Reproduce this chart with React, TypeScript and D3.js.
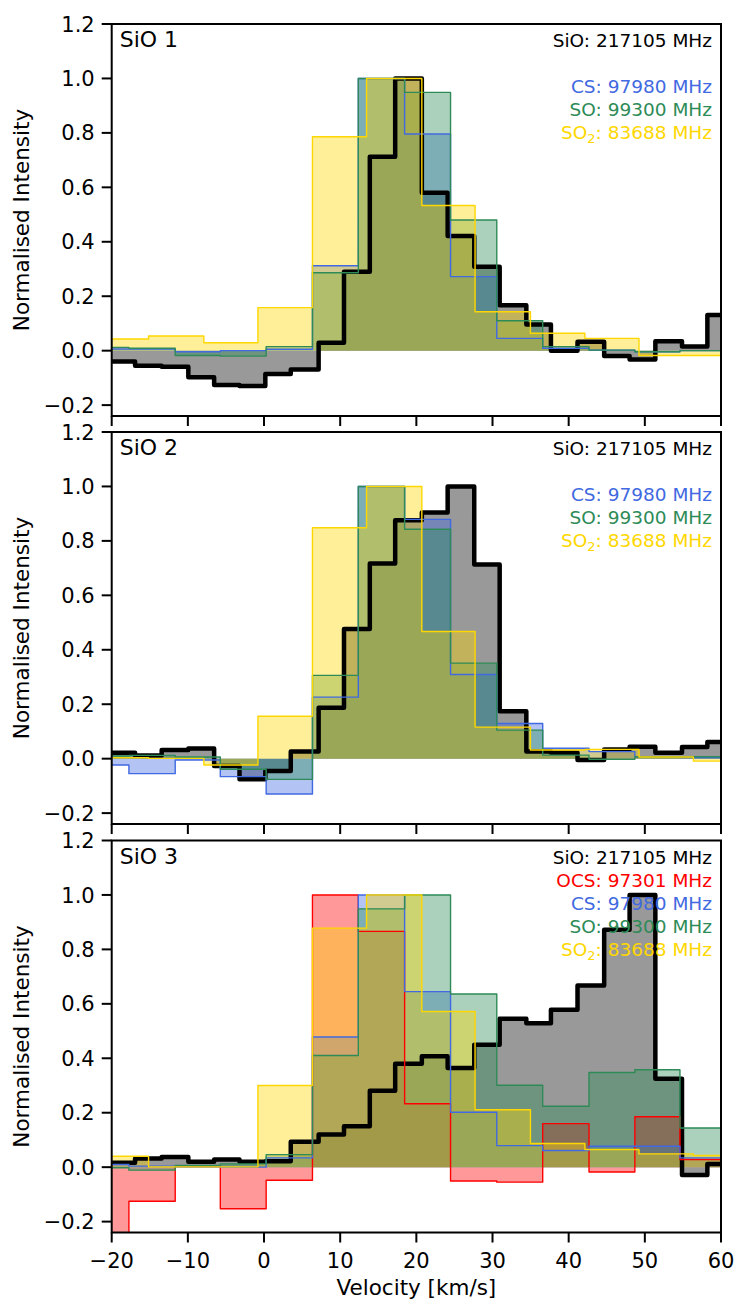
import React, { useEffect } from 'react';
import * as d3 from 'd3';

// ---- velocity bin edges (km/s) ----
const edgesSiO = [-20.5, -16.93, -13.44, -9.94, -6.55, -3.22, 0.17, 3.51, 7.17, 10.5, 13.89, 17.22, 20.72, 24.11, 27.6, 30.94, 34.44, 37.67, 41.16, 44.66, 48.0, 51.38, 54.88, 58.21, 61.6];
const edgesCS = [-20.5, -17.74, -11.66, -5.74, 0.28, 6.36, 12.38, 18.46, 24.49, 30.56, 36.59, 42.67, 48.69, 54.61, 61];
const edgesSO = edgesCS;
const edgesOCS = edgesCS;
const edgesSO2 = [-20.5, -15.16, -7.9, -0.8, 6.36, 13.46, 20.72, 27.71, 34.98, 42.13, 49.23, 56.38, 61];

// ---- normalised intensities ----
const sio1 = [-0.04, -0.055, -0.059, -0.098, -0.126, -0.13, -0.086, -0.069, 0.029, 0.29, 0.712, 1.0, 0.58, 0.421, 0.308, 0.167, 0.096, 0.0, 0.033, -0.02, -0.032, 0.035, 0.015, 0.131];
const sio2 = [0.022, 0.012, 0.032, 0.037, -0.027, -0.076, -0.045, 0.026, 0.187, 0.476, 0.717, 0.876, 0.904, 1.0, 0.713, 0.174, 0.026, 0.022, -0.005, 0.034, 0.044, 0.022, 0.043, 0.061];
const sio3 = [0.016, 0.032, 0.037, 0.02, 0.028, 0.02, 0.022, 0.093, 0.12, 0.15, 0.281, 0.38, 0.407, 0.364, 0.45, 0.545, 0.529, 0.578, 0.667, 0.872, 1.0, 0.325, -0.029, 0.012];

const cs1 = [0.006, 0.006, -0.004, 0.0, 0.005, 0.312, 1.0, 0.796, 0.272, 0.045, 0.009, 0.002, -0.004, 0.0];
const cs2 = [-0.023, -0.055, -0.005, -0.066, -0.13, 0.226, 1.0, 0.879, 0.309, 0.129, 0.038, 0.026, 0.007, 0.004];
const cs3 = [0.01, 0.004, 0.001, 0.0, 0.034, 0.478, 1.0, 0.645, 0.202, 0.079, 0.061, 0.077, 0.077, 0.034];

const so1 = [0.012, 0.009, -0.018, -0.02, 0.015, 0.286, 1.0, 0.949, 0.48, 0.11, 0.015, 0.002, -0.004, 0.0];
const so2 = [0.01, 0.012, 0.006, -0.039, -0.076, 0.306, 1.0, 0.843, 0.351, 0.105, 0.013, -0.002, 0.007, 0.007];
const so3 = [-0.002, -0.011, 0.006, 0.012, 0.046, 0.41, 0.949, 1.0, 0.636, 0.301, 0.224, 0.348, 0.358, 0.144];

const ocs3 = [-0.27, -0.125, 0.003, -0.153, -0.048, 1.0, 0.866, 0.233, -0.051, -0.055, 0.16, -0.018, 0.185, 0.028];

const so2_1 = [0.043, 0.054, 0.029, 0.158, 0.786, 1.0, 0.533, 0.143, 0.064, 0.045, -0.018, -0.018];
const so2_2 = [0.004, 0.001, -0.023, 0.156, 0.848, 1.0, 0.467, 0.116, 0.032, 0.034, 0.006, -0.009];
const so2_3 = [0.04, 0.001, 0.001, 0.3, 0.878, 1.0, 0.572, 0.211, 0.087, 0.065, 0.049, 0.043];

const xTicks = [-20, -10, 0, 10, 20, 30, 40, 50, 60];
const yTicks = [-0.2, 0.0, 0.2, 0.4, 0.6, 0.8, 1.0, 1.2];
const panelLabels = ['SiO 1', 'SiO 2', 'SiO 3'];

type Series = { name: string; color: string; edges: number[]; values: number[]; lw: number; row: number; freq: string };

const panels: { label: string; series: Series[] }[] = [
  {
    label: panelLabels[0],
    series: [
      { name: 'SiO', color: '#000000', edges: edgesSiO, values: sio1, lw: 4.5, row: 0, freq: '217105 MHz' },
      { name: 'CS', color: '#4169e1', edges: edgesCS, values: cs1, lw: 1.4, row: 2, freq: '97980 MHz' },
      { name: 'SO', color: '#2e8b57', edges: edgesSO, values: so1, lw: 1.4, row: 3, freq: '99300 MHz' },
      { name: 'SO2', color: '#ffd700', edges: edgesSO2, values: so2_1, lw: 1.4, row: 4, freq: '83688 MHz' },
    ],
  },
  {
    label: panelLabels[1],
    series: [
      { name: 'SiO', color: '#000000', edges: edgesSiO, values: sio2, lw: 4.5, row: 0, freq: '217105 MHz' },
      { name: 'CS', color: '#4169e1', edges: edgesCS, values: cs2, lw: 1.4, row: 2, freq: '97980 MHz' },
      { name: 'SO', color: '#2e8b57', edges: edgesSO, values: so2, lw: 1.4, row: 3, freq: '99300 MHz' },
      { name: 'SO2', color: '#ffd700', edges: edgesSO2, values: so2_2, lw: 1.4, row: 4, freq: '83688 MHz' },
    ],
  },
  {
    label: panelLabels[2],
    series: [
      { name: 'SiO', color: '#000000', edges: edgesSiO, values: sio3, lw: 4.5, row: 0, freq: '217105 MHz' },
      { name: 'OCS', color: '#ff0000', edges: edgesOCS, values: ocs3, lw: 1.4, row: 1, freq: '97301 MHz' },
      { name: 'CS', color: '#4169e1', edges: edgesCS, values: cs3, lw: 1.4, row: 2, freq: '97980 MHz' },
      { name: 'SO', color: '#2e8b57', edges: edgesSO, values: so3, lw: 1.4, row: 3, freq: '99300 MHz' },
      { name: 'SO2', color: '#ffd700', edges: edgesSO2, values: so2_3, lw: 1.4, row: 4, freq: '83688 MHz' },
    ],
  },
];

const W = 748;
const H = 1313;
const left = 111.7;
const right = 721;
const panelTops = [24, 432, 840.5];
const panelH = 392;
const FONT = "'DejaVu Sans', Verdana, sans-serif";

const x = d3.scaleLinear().domain([-20, 60]).range([left, right]);

function stepPoints(edges: number[], values: number[]): [number, number][] {
  const pts: [number, number][] = values.map((v, i) => [edges[i], v]);
  pts.push([edges[values.length], values[values.length - 1]]);
  return pts;
}

function fmt(v: number) {
  return d3.format('.1f')(v).replace('-', '\u2212');
}

function Panel({ idx }: { idx: number }) {
  const p = panels[idx];
  const top = panelTops[idx];
  const bottom = top + panelH;
  const y = d3.scaleLinear().domain([-0.24, 1.2]).range([bottom, top]);
  const line = d3.line<[number, number]>().x(d => x(d[0])).y(d => y(d[1])).curve(d3.curveStepAfter);
  const area = d3.area<[number, number]>().x(d => x(d[0])).y0(y(0)).y1(d => y(d[1])).curve(d3.curveStepAfter);
  const clipId = `clip${idx}`;
  const isLast = idx === panels.length - 1;
  return (
    <g>
      <defs>
        <clipPath id={clipId}>
          <rect x={left} y={top} width={right - left} height={panelH} />
        </clipPath>
      </defs>
      <g clipPath={`url(#${clipId})`}>
        {p.series.map(s => (
          <path key={'f' + s.name} d={area(stepPoints(s.edges, s.values)) || ''} fill={s.color} fillOpacity={0.4} stroke="none" />
        ))}
        {p.series.map(s => (
          <path key={'l' + s.name} d={line(stepPoints(s.edges, s.values)) || ''} fill="none" stroke={s.color} strokeWidth={s.lw} strokeLinejoin="round" />
        ))}
      </g>
      {/* spines */}
      <rect x={left} y={top} width={right - left} height={panelH} fill="none" stroke="#000" strokeWidth={2} />
      {/* y ticks */}
      {yTicks.map(t => (
        <g key={'y' + t}>
          <line x1={left - 10} x2={left} y1={y(t)} y2={y(t)} stroke="#000" strokeWidth={2} />
          <text x={left - 17} y={y(t)} dy="0.36em" textAnchor="end" fontSize={21} fontFamily={FONT}>{fmt(t)}</text>
        </g>
      ))}
      {/* x ticks */}
      {xTicks.map(t => (
        <g key={'x' + t}>
          <line x1={x(t)} x2={x(t)} y1={bottom} y2={bottom + 10} stroke="#000" strokeWidth={2} />
          {isLast && (
            <text x={x(t)} y={bottom + 35} textAnchor="middle" fontSize={21} fontFamily={FONT}>{String(t).replace('-', '\u2212')}</text>
          )}
        </g>
      ))}
      {/* y label */}
      <text transform={`translate(29,${(top + bottom) / 2}) rotate(-90)`} textAnchor="middle" fontSize={21.5} fontFamily={FONT}>Normalised Intensity</text>
      {/* panel label */}
      <text x={left + 8} y={top + 23} fontSize={22} fontFamily={FONT}>{p.label}</text>
      {/* legend texts */}
      {p.series.map(s => (
        <text key={'t' + s.name} x={right - 9} y={top + 23 + s.row * 23} textAnchor="end" fontSize={18.5} fontFamily={FONT} fill={s.color}>
          {s.name === 'SO2' ? (
            <>
              <tspan>SO</tspan>
              <tspan fontSize={13} dy={4}>2</tspan>
              <tspan dy={-4}>{': ' + s.freq}</tspan>
            </>
          ) : (
            s.name + ': ' + s.freq
          )}
        </text>
      ))}
      {isLast && (
        <text x={(left + right) / 2} y={bottom + 62} textAnchor="middle" fontSize={21.5} fontFamily={FONT}>Velocity [km/s]</text>
      )}
    </g>
  );
}

export default function App() {
  useEffect(() => {
    document.body.style.margin = '0';
  }, []);
  return (
    <svg width={W} height={H} viewBox={`0 0 ${W} ${H}`} style={{ display: 'block', background: '#fff' }}>
      <rect width={W} height={H} fill="#fff" />
      {panels.map((_, i) => (
        <Panel key={i} idx={i} />
      ))}
    </svg>
  );
}
